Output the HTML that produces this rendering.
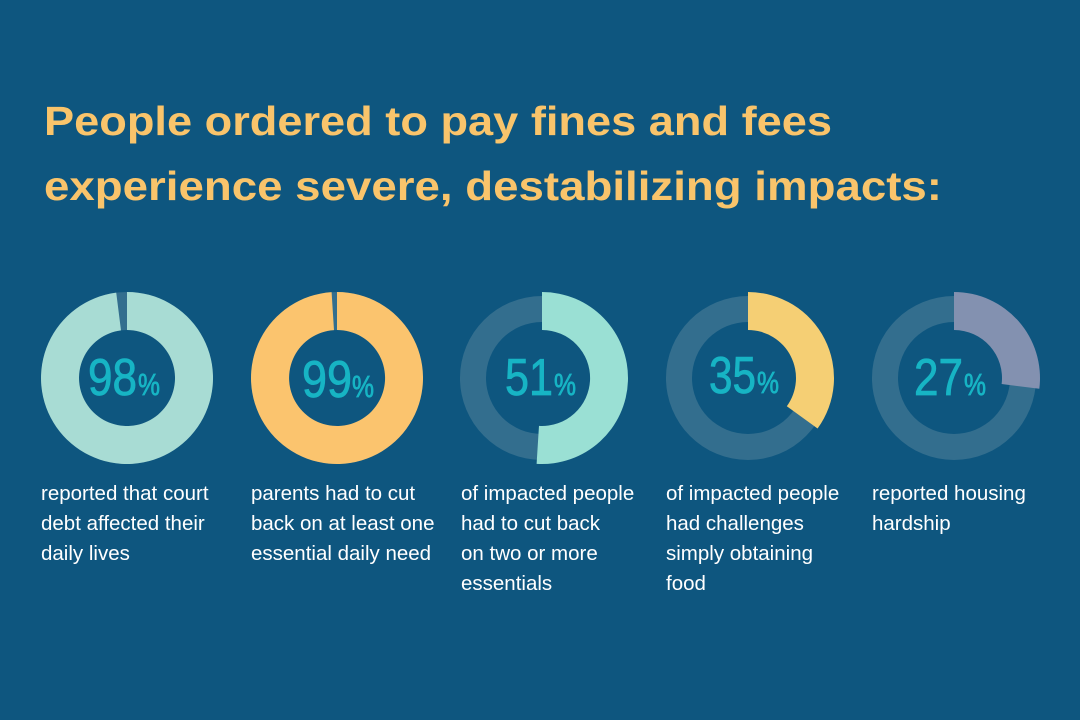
<!DOCTYPE html>
<html><head><meta charset="utf-8"><style>
html,body{margin:0;padding:0;background:#0e567f;}
svg{display:block;}
</style></head><body>
<svg width="1080" height="720" viewBox="0 0 1080 720" xmlns="http://www.w3.org/2000/svg">
<rect width="1080" height="720" fill="#0e567f"/>
<g font-family="Liberation Sans, sans-serif" font-weight="bold" fill="#f9c46b" font-size="41">
<text x="44" y="135" textLength="788" lengthAdjust="spacingAndGlyphs">People ordered to pay fines and fees</text>
<text x="44" y="200" textLength="898" lengthAdjust="spacingAndGlyphs">experience severe, destabilizing impacts:</text>
</g>
<!-- donut 1 -->
<g transform="translate(127,378)">
<path d="M0,-86 A86,86 0 1 1 0,86 A86,86 0 1 1 0,-86 Z M0,-48 A48,48 0 1 0 0,48 A48,48 0 1 0 0,-48 Z" fill="#336e8e" fill-rule="evenodd"/>
<path d="M0,-86 A86,86 0 1 1 -10.78,-85.32 L-6.01,-47.62 A48,48 0 1 0 0,-48 Z" fill="#a8dcd4"/>
</g>
<!-- donut 2 -->
<g transform="translate(337,378)">
<path d="M0,-86 A86,86 0 1 1 0,86 A86,86 0 1 1 0,-86 Z M0,-48 A48,48 0 1 0 0,48 A48,48 0 1 0 0,-48 Z" fill="#336e8e" fill-rule="evenodd"/>
<path d="M0,-86 A86,86 0 1 1 -5.40,-85.83 L-3.01,-47.90 A48,48 0 1 0 0,-48 Z" fill="#fbc46e"/>
</g>
<!-- donut 3 -->
<g transform="translate(542,378)">
<path d="M0,-82 A82,82 0 1 1 0,82 A82,82 0 1 1 0,-82 Z M0,-56 A56,56 0 1 0 0,56 A56,56 0 1 0 0,-56 Z" fill="#336e8e" fill-rule="evenodd"/>
<path d="M0,-86 A86,86 0 1 1 -5.40,85.83 L-3.01,47.90 A48,48 0 1 0 0,-48 Z" fill="#9ae0d4"/>
</g>
<!-- donut 4 -->
<g transform="translate(748,378)">
<path d="M0,-82 A82,82 0 1 1 0,82 A82,82 0 1 1 0,-82 Z M0,-56 A56,56 0 1 0 0,56 A56,56 0 1 0 0,-56 Z" fill="#336e8e" fill-rule="evenodd"/>
<path d="M0,-86 A86,86 0 0 1 69.57,50.55 L38.83,28.21 A48,48 0 0 0 0,-48 Z" fill="#f5cf74"/>
</g>
<!-- donut 5 -->
<g transform="translate(954,378)">
<path d="M0,-82 A82,82 0 1 1 0,82 A82,82 0 1 1 0,-82 Z M0,-56 A56,56 0 1 0 0,56 A56,56 0 1 0 0,-56 Z" fill="#336e8e" fill-rule="evenodd"/>
<path d="M0,-86 A86,86 0 0 1 85.32,10.78 L47.62,6.01 A48,48 0 0 0 0,-48 Z" fill="#8391b0"/>
</g>
<g font-family="Liberation Sans, sans-serif" fill="#17b4c4" stroke="#17b4c4" stroke-width="0.8">
<text x="88" y="395" font-size="52" textLength="49" lengthAdjust="spacingAndGlyphs">98</text><text x="138" y="395" font-size="31" textLength="22" lengthAdjust="spacingAndGlyphs">%</text>
<text x="302" y="397" font-size="52" textLength="50" lengthAdjust="spacingAndGlyphs">99</text><text x="352" y="397" font-size="31" textLength="22" lengthAdjust="spacingAndGlyphs">%</text>
<text x="505" y="395" font-size="52" textLength="48" lengthAdjust="spacingAndGlyphs">51</text><text x="554" y="395" font-size="31" textLength="22" lengthAdjust="spacingAndGlyphs">%</text>
<text x="709" y="393" font-size="52" textLength="47" lengthAdjust="spacingAndGlyphs">35</text><text x="757" y="393" font-size="31" textLength="22" lengthAdjust="spacingAndGlyphs">%</text>
<text x="914" y="395" font-size="52" textLength="49" lengthAdjust="spacingAndGlyphs">27</text><text x="964" y="395" font-size="31" textLength="22" lengthAdjust="spacingAndGlyphs">%</text>
</g>
<g font-family="Liberation Sans, sans-serif" fill="#ffffff" font-size="20.5">
<text x="41" y="500">reported that court</text>
<text x="41" y="530">debt affected their</text>
<text x="41" y="560">daily lives</text>
<text x="251" y="500">parents had to cut</text>
<text x="251" y="530">back on at least one</text>
<text x="251" y="560">essential daily need</text>
<text x="461" y="500">of impacted people</text>
<text x="461" y="530">had to cut back</text>
<text x="461" y="560">on two or more</text>
<text x="461" y="590">essentials</text>
<text x="666" y="500">of impacted people</text>
<text x="666" y="530">had challenges</text>
<text x="666" y="560">simply obtaining</text>
<text x="666" y="590">food</text>
<text x="872" y="500">reported housing</text>
<text x="872" y="530">hardship</text>
</g>
</svg>
</body></html>
